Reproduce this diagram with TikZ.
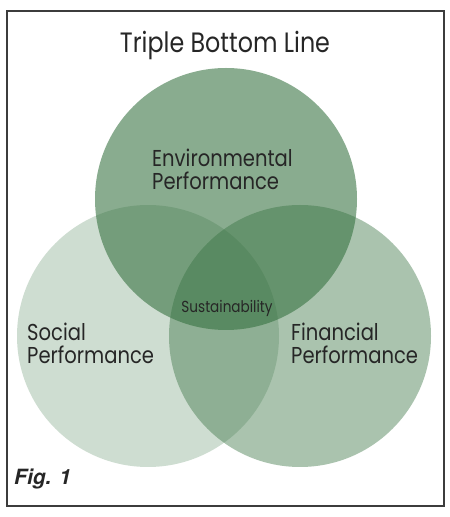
\documentclass[tikz,border=0pt]{standalone}
\usepackage{fontspec}
\setmainfont{Poppins}[FakeStretch=0.85]
\newfontfamily\figfont{TeX Gyre Heros}
\usepackage{tikz}
\usetikzlibrary{positioning}
\definecolor{tblgreen}{RGB}{52,112,62}
\definecolor{framegray}{RGB}{60,60,60}

\begin{document}
\begin{tikzpicture}[x=1pt,y=1pt,
          every node/.style={text=black!85},
          pillar/.style={circle,minimum size=262pt,inner sep=0pt,fill=tblgreen},
          lbl/.style={align=left,font=\fontsize{23}{23}\selectfont,inner sep=0pt,anchor=north west},
        ]
        \useasboundingbox (0,0) rectangle (450,517);
        \draw[framegray,line width=1.2pt] (7,11) rectangle (444,506);
        % the three pillars
        \node[pillar,fill opacity=.24] (soc) at (148,181) {};
        \node[pillar,fill opacity=.42] (fin) at (300,181) {};
        \node[pillar,fill opacity=.58] (env) at (226,318) {};
        % texts
        \node[font=\fontsize{28}{30}\selectfont] (title) at (225,472) {Triple Bottom Line};
        \node[lbl] (envlbl) at (152,368) {Environmental\\Performance};
        \node[lbl] (soclbl) at (27,194) {Social\\Performance};
        \node[lbl] (finlbl) at (291,194) {Financial\\Performance};
        \node[font=\fontsize{16}{17}\selectfont] (sust) at (227,209) {Sustainability};
        \node[font=\figfont\fontsize{21}{22}\selectfont\bfseries\itshape,anchor=west,inner sep=0pt] (fig) at (14,38) {Fig. 1};
      \end{tikzpicture}
\end{document}
